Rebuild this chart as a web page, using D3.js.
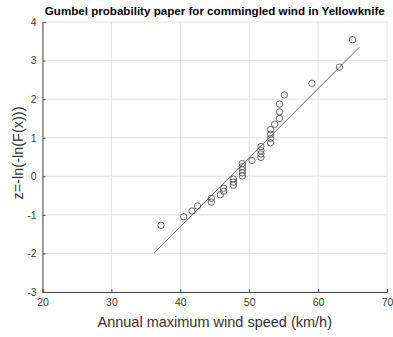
<html>
<head>
  <meta charset="utf-8">
  <script src="https://d3js.org/d3.v7.min.js"></script>
  <style>
    body { margin: 0; background: #fff; }
    text { font-family: "Liberation Sans", Arial, sans-serif; }
  </style>
</head>
<body>
<svg id="chart" width="393" height="337"></svg>
<script>
// wind speeds (km/h), sorted
const windSpeed = [37.2, 40.5, 41.7, 42.5, 44.5, 44.5, 45.8, 46.3, 46.3, 47.7,
                   47.7, 47.7, 49.0, 49.0, 49.0, 49.0, 49.0, 50.4, 51.7, 51.7,
                   51.7, 51.7, 53.1, 53.1, 53.1, 53.1, 53.7, 54.4, 54.4, 54.4,
                   55.1, 59.1, 63.1, 65.0];
// reduced variate z for each point
const zValue = [-1.27, -1.05, -0.90, -0.77, -0.67, -0.57, -0.48, -0.39, -0.31, -0.23,
                -0.15, -0.07, 0.01, 0.09, 0.17, 0.25, 0.33, 0.41, 0.49, 0.58,
                0.67, 0.77, 0.87, 0.98, 1.09, 1.21, 1.35, 1.50, 1.67, 1.87,
                2.11, 2.41, 2.83, 3.54];
// fitted line end points
const fitX = [36.2, 66.0];
const fitZ = [-1.99, 3.35];
const xTicks = [20, 30, 40, 50, 60, 70];
const yTicks = [-3, -2, -1, 0, 1, 2, 3, 4];

let svg = d3.select("#chart");
let margin = {top: 22, right: 6, bottom: 45, left: 42.5};
let width = 393 - margin.left - margin.right;
let height = 337 - margin.top - margin.bottom;

const xScale = d3.scaleLinear().domain([20, 70]).range([margin.left, margin.left + width]);
const yScale = d3.scaleLinear().domain([-3, 4]).range([margin.top + height, margin.top]);
const plainFormat = d => String(d);   // keep ascii hyphen like the original

// gridlines
let grid = svg.append("g").attr("class", "gridlines");
grid.selectAll("line.vx").data(xTicks).join("line")
  .attr("x1", d => xScale(d)).attr("x2", d => xScale(d))
  .attr("y1", yScale(-3)).attr("y2", yScale(4))
  .attr("stroke", "#e3e3e3").attr("stroke-width", 1);
grid.selectAll("line.hy").data(yTicks).join("line")
  .attr("x1", xScale(20)).attr("x2", xScale(70))
  .attr("y1", d => yScale(d)).attr("y2", d => yScale(d))
  .attr("stroke", "#e3e3e3").attr("stroke-width", 1);

// axes
let bottomAxis = d3.axisBottom(xScale).tickValues(xTicks).tickFormat(plainFormat).tickSize(-3).tickPadding(7);
svg.append("g")
  .attr("transform", `translate(0,${yScale(-3)})`)
  .call(bottomAxis)
  .call(g => g.select(".domain").attr("stroke", "#4d4d4d"))
  .call(g => g.selectAll(".tick line").attr("stroke", "#4d4d4d"))
  .call(g => g.selectAll("text").attr("font-size", 10.5).attr("fill", "#404040")
    .attr("font-family", "Liberation Sans, Arial, sans-serif"));

let leftAxis = d3.axisLeft(yScale).tickValues(yTicks).tickFormat(plainFormat).tickSize(-3).tickPadding(6);
svg.append("g")
  .attr("transform", `translate(${xScale(20)},0)`)
  .call(leftAxis)
  .call(g => g.select(".domain").attr("stroke", "#4d4d4d"))
  .call(g => g.selectAll(".tick line").attr("stroke", "#4d4d4d"))
  .call(g => g.selectAll("text").attr("font-size", 10.5).attr("fill", "#404040")
    .attr("font-family", "Liberation Sans, Arial, sans-serif"));

// fitted line
svg.append("line")
  .attr("x1", xScale(fitX[0])).attr("y1", yScale(fitZ[0]))
  .attr("x2", xScale(fitX[1])).attr("y2", yScale(fitZ[1]))
  .attr("stroke", "#555").attr("stroke-width", 0.9);

// data points
svg.append("g").selectAll("circle").data(windSpeed).join("circle")
  .attr("cx", d => xScale(d))
  .attr("cy", (d, i) => yScale(zValue[i]))
  .attr("r", 3.2)
  .attr("fill", "none")
  .attr("stroke", "#444")
  .attr("stroke-width", 0.8);

// title and labels
svg.append("text")
  .attr("x", (xScale(20) + xScale(70)) / 2).attr("y", 15)
  .attr("text-anchor", "middle").attr("font-weight", "bold")
  .attr("font-size", 11.6).attr("fill", "#000")
  .text("Gumbel probability paper for commingled wind in Yellowknife");

svg.append("text")
  .attr("x", (xScale(20) + xScale(70)) / 2).attr("y", 327)
  .attr("text-anchor", "middle").attr("font-size", 14.5).attr("fill", "#333")
  .text("Annual maximum wind speed (km/h)");

svg.append("text")
  .attr("transform", `translate(23,${(yScale(-3) + yScale(4)) / 2 - 4}) rotate(-90)`)
  .attr("text-anchor", "middle").attr("font-size", 14.5).attr("fill", "#333")
  .text("z=-ln(-ln(F(x)))");
</script>
</body>
</html>
